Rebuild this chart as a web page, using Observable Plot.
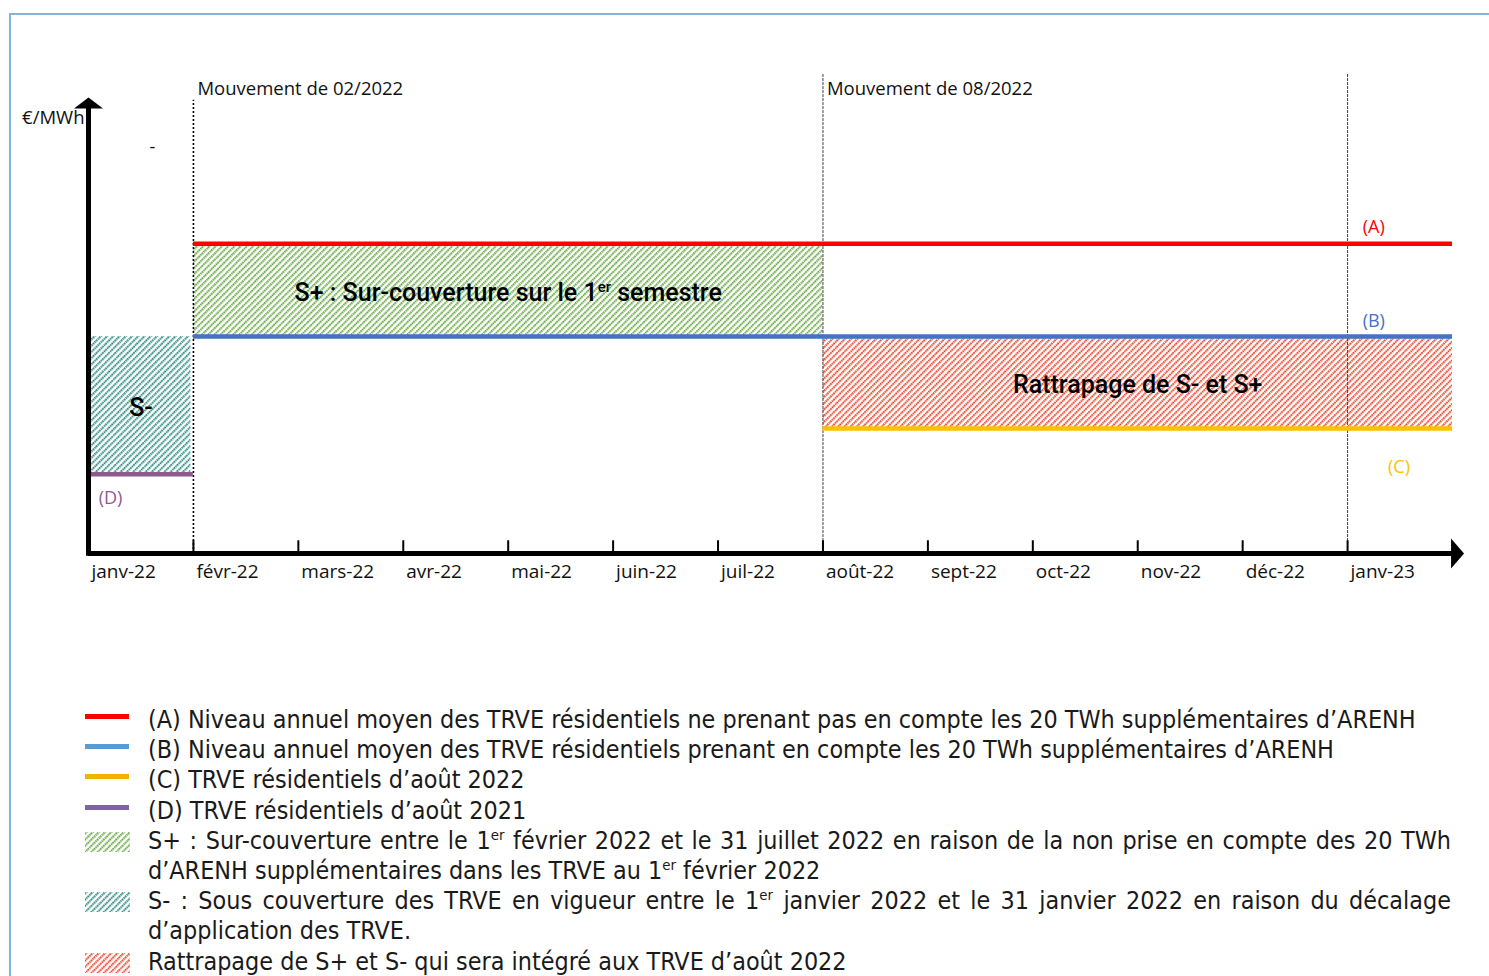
<!DOCTYPE html>
<html><head><meta charset="utf-8">
<script src="https://cdn.jsdelivr.net/npm/d3@7"></script>
<script src="https://cdn.jsdelivr.net/npm/@observablehq/plot@0.6"></script>
<style>
html,body{margin:0;padding:0;background:#fff;overflow:hidden;width:1489px;height:976px;}
#frame{position:absolute;left:9px;top:13px;width:1600px;height:1100px;border-left:2px solid #86b3db;border-top:2px solid #86b3db;}
#chart{position:absolute;left:0;top:0;}
#legend{position:absolute;left:85px;top:705px;width:1366px;font-family:"Liberation Sans Narrow","DejaVu Sans Condensed",Roboto,sans-serif;color:#1a1a1a;line-height:30.2px;font-size:24px;}
.row{display:flex;align-items:flex-start;}
.sw{width:63px;flex:none;height:30.2px;position:relative;}
.sw .ln{position:absolute;left:0;width:44px;height:5px;top:9px;}
.sw .hb{position:absolute;left:0;width:45px;height:20px;top:6px;}
.txt{flex:1;min-width:0;}
.just{text-align:justify;text-align-last:justify;white-space:nowrap;}
sup{font-size:0.6em;vertical-align:super;line-height:0;}
</style>
</head><body>
<div id="frame"></div>
<svg width="0" height="0" style="position:absolute">
<defs>
<pattern id="hatchGreen" patternUnits="userSpaceOnUse" width="4.4" height="4.4" patternTransform="rotate(45)">
<line x1="1.1" y1="0" x2="1.1" y2="4.4" stroke="#5fa33a" stroke-width="2" stroke-dasharray="1.6 0.6"/>
</pattern>
<pattern id="hatchTeal" patternUnits="userSpaceOnUse" width="4.4" height="4.4" patternTransform="rotate(45)">
<line x1="1.1" y1="0" x2="1.1" y2="4.4" stroke="#22857a" stroke-width="2" stroke-dasharray="1.6 0.6"/>
</pattern>
<pattern id="hatchRed" patternUnits="userSpaceOnUse" width="4.4" height="4.4" patternTransform="rotate(45)">
<line x1="1.1" y1="0" x2="1.1" y2="4.4" stroke="#e63e22" stroke-width="2" stroke-dasharray="1.6 0.6"/>
</pattern>
</defs>
</svg>
<div id="chart"></div>
<div id="legend"></div>
<script>
// ---------- data ----------
const monthLabels = ["janv-22","févr-22","mars-22","avr-22","mai-22","juin-22","juil-22","août-22","sept-22","oct-22","nov-22","déc-22","janv-23"];
const seriesNames = ["(A)","(B)","(C)","(D)"];
const seriesLevel = [68.1, 47.7, 27.5, 17.4];   // €/MWh (schematic)
const seriesStart = [1, 1, 7, 0];               // month index
const seriesEnd   = [13, 13, 13, 1];
const zoneNames  = ["S+ : Sur-couverture sur le 1^er semestre", "S-", "Rattrapage de S- et S+"];
const zoneStart  = [1, 0, 7];
const zoneEnd    = [7, 1, 13];
const zoneLow    = ["(B)", "(D)", "(C)"];
const zoneHigh   = ["(A)", "(B)", "(B)"];
const moveLabels = ["Mouvement de 02/2022", "Mouvement de 08/2022", ""];
const moveMonth  = [1, 7, 12];
const legendLines = [
  "(A) Niveau annuel moyen des TRVE résidentiels ne prenant pas en compte les 20 TWh supplémentaires d’ARENH",
  "(B) Niveau annuel moyen des TRVE résidentiels prenant en compte les 20 TWh supplémentaires d’ARENH",
  "(C) TRVE résidentiels d’août 2022",
  "(D) TRVE résidentiels d’août 2021"
];
const legendZones = [
  ["S+ : Sur-couverture entre le 1<sup>er</sup> février 2022 et le 31 juillet 2022 en raison de la non prise en compte des 20 TWh", "d’ARENH supplémentaires dans les TRVE au 1<sup>er</sup> février 2022"],
  ["S- : Sous couverture des TRVE en vigueur entre le 1<sup>er</sup> janvier 2022 et le 31 janvier 2022 en raison du décalage", "d’application des TRVE."],
  ["Rattrapage de S+ et S- qui sera intégré aux TRVE d’août 2022"]
];

// ---------- styles ----------
const lineColors = ["#ff0000", "#4472c4", "#ffc000", "#8e5a8e"];
const labelColors = ["#ff0000", "#4472c4", "#ffc000", "#8e5a8e"];
const legendLineColors = ["#ff0000", "#5b9bd5", "#f0b400", "#8064a2"];
const zonePatterns = ["hatchGreen", "hatchTeal", "hatchRed"];

const level = Object.fromEntries(seriesNames.map((n, i) => [n, seriesLevel[i]]));
const series = seriesNames.map((n, i) => ({name: n, y: seriesLevel[i], x1: seriesStart[i], x2: seriesEnd[i], i}));
const zones = zoneNames.map((n, i) => ({name: n, x1: zoneStart[i], x2: zoneEnd[i], y1: level[zoneLow[i]], y2: level[zoneHigh[i]], i}));
const months = monthLabels.map((m, i) => ({label: m, x: i}));

const yMax = 100;
const xMax = 13;
const font = "'Open Sans', sans-serif";

// arrow head symbols (tip at origin)
const headRight = {draw(c){ c.moveTo(0,0); c.lineTo(-13,-15); c.lineTo(-13,15); c.closePath(); }};
const headUp = {draw(c){ c.moveTo(0,0); c.lineTo(-14.5,11); c.lineTo(14.5,11); c.closePath(); }};

const marks = [];
zones.forEach(z => {
  marks.push(Plot.rect([z], {x1: "x1", x2: "x2", y1: "y1", y2: "y2", fill: `url(#${zonePatterns[z.i]})`, insetRight: z.i === 1 ? 2.5 : 0, insetLeft: z.i === 1 ? 2.5 : 0}));
});
// vertical "mouvement" rules
marks.push(Plot.ruleX([moveMonth[0]], {x: d => d, y1: 0, y2: yMax - 0.4, stroke: "#000", strokeWidth: 1.6, strokeDasharray: "2 2"}));
marks.push(Plot.ruleX(moveMonth.slice(1), {x: d => d, y1: 0, y2: yMax + 5.5, stroke: "#444", strokeWidth: 1, strokeDasharray: "3 1"}));
// level lines
series.forEach(s => {
  marks.push(Plot.ruleY([s], {y: "y", x1: "x1", x2: "x2", stroke: lineColors[s.i], strokeWidth: 4.5}));
});
// axes
marks.push(Plot.ruleX([0], {y1: -0.6, y2: yMax - 2, stroke: "#000", strokeWidth: 5}));
marks.push(Plot.ruleY([0], {x1: 0, x2: xMax, stroke: "#000", strokeWidth: 5}));
marks.push(Plot.dot([{x: xMax + 0.11, y: 0}], {x: "x", y: "y", symbol: headRight, fill: "#000", stroke: null}));
marks.push(Plot.dot([{x: 0, y: yMax + 0.2}], {x: "x", y: "y", symbol: headUp, fill: "#000", stroke: null}));
// ticks
marks.push(Plot.ruleX(months.slice(1), {x: "x", y1: 0, y2: 2.8, stroke: "#000", strokeWidth: 2}));
marks.push(Plot.text(months, {x: "x", y: 0, text: "label", dx: 3, dy: 18, textAnchor: "start", fontSize: 19, fontFamily: font, fill: "#111"}));
// movement labels
marks.push(Plot.text(moveMonth.map((m, i) => ({x: m, t: moveLabels[i]})).filter(d => d.t), {x: "x", y: yMax + 2, text: "t", dx: 4, textAnchor: "start", fontSize: 18.5, fontFamily: font, fill: "#111"}));
// y unit
marks.push(Plot.text(["€/MWh"], {x: 0, y: yMax - 4.2, text: d => d, dx: -4, textAnchor: "end", fontSize: 18.5, fontFamily: font, fill: "#111"}));
marks.push(Plot.text(["-"], {x: 0.61, y: yMax - 10.8, text: d => d, fontSize: 18, fontFamily: font, fill: "#111"}));
// series letters
const letterPos = [{dx: 12.25, dy: 3.6}, {dx: 12.25, dy: 3.3}, {dx: 12.49, dy: -8.6}, {dx: 0.21, dy: -5.3}];
series.forEach(s => {
  marks.push(Plot.text([s], {x: d => letterPos[d.i].dx, y: d => d.y + letterPos[d.i].dy, text: "name", fontSize: 18, fontFamily: font, fill: labelColors[s.i]}));
});
// zone labels
marks.push(Plot.text(zones, {x: d => (d.x1 + d.x2) / 2, y: d => (d.y1 + d.y2) / 2, text: "name", dy: 3, fontSize: 25, fontWeight: 500, fontFamily: "Roboto, sans-serif", fill: "#000"}));

const chart = Plot.plot({
  width: 1489,
  height: 640,
  marginLeft: 88,
  marginRight: 37,
  marginTop: 98,
  marginBottom: 87,
  x: {domain: [0, xMax], axis: null},
  y: {domain: [0, yMax], axis: null},
  style: {background: "transparent", overflow: "visible", fontFamily: font},
  marks
});
// superscript handling
d3.select(chart).selectAll("text").each(function() {
  const t = this.textContent;
  if (t.includes("^er")) {
    const [a, b] = t.split("^er");
    const sel = d3.select(this);
    sel.text(null);
    sel.append("tspan").text(a);
    sel.append("tspan").attr("font-size", "0.6em").attr("dy", "-9").text("er");
    sel.append("tspan").attr("dy", "9").text(b);
  }
});
document.getElementById("chart").appendChild(chart);

// ---------- legend ----------
const legend = document.getElementById("legend");
let html = "";
legendLines.forEach((t, i) => {
  html += `<div class="row"><div class="sw"><div class="ln" style="background:${legendLineColors[i]}"></div></div><div class="txt"><span ${i === 0 ? 'id="rowA"' : ''}>${t}</span></div></div>`;
});
legendZones.forEach((lines, i) => {
  const inner = lines.map((l, j) => `<div class="${j === 0 && lines.length > 1 ? 'just' : ''}">${l}</div>`).join("");
  html += `<div class="row"><div class="sw"><svg class="hb" width="45" height="20"><rect width="45" height="20" fill="url(#${zonePatterns[i]})"/></svg></div><div class="txt">${inner}</div></div>`;
});
legend.innerHTML = html;
function fit() {
  const span = document.getElementById("rowA");
  legend.style.fontSize = "24px";
  const w = span.getBoundingClientRect().width;
  legend.style.fontSize = (24 * 1268 / w).toFixed(2) + "px";
}
fit();
if (document.fonts && document.fonts.ready) document.fonts.ready.then(fit);
</script>
</body></html>
